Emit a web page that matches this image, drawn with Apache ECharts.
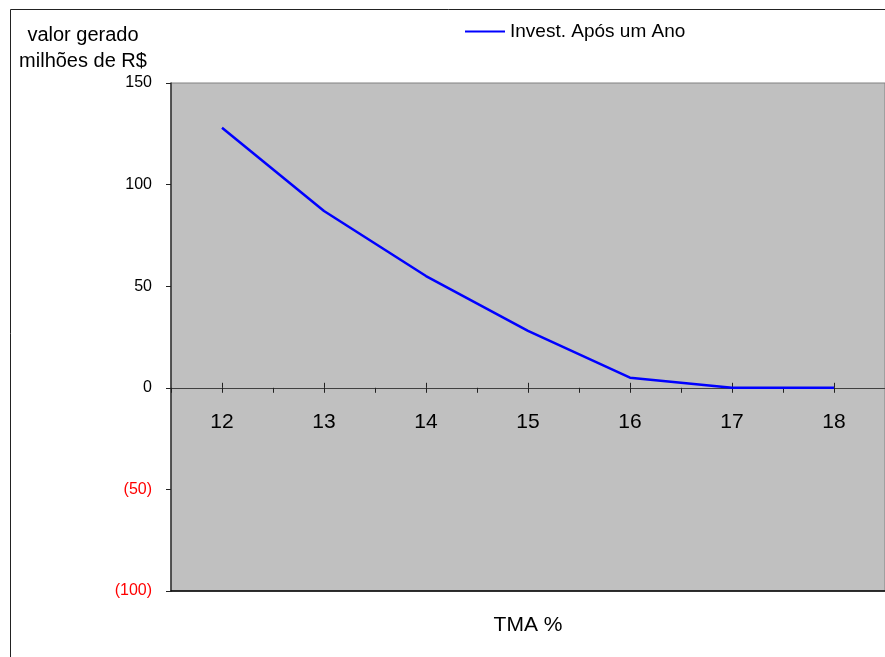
<!DOCTYPE html>
<html>
<head>
<meta charset="utf-8">
<script src="https://cdn.jsdelivr.net/npm/echarts@6/dist/echarts.min.js"></script>
<style>
  html, body { margin: 0; padding: 0; background: #fff; }
  #chart { width: 885px; height: 657px; }
</style>
</head>
<body>
<div id="chart"></div>
<script>
// TMA % (categorias do eixo x)
const tma = ['12', '13', '14', '15', '16', '17', '18'];
// valor gerado, milhões de R$
const investAposUmAno = [128, 87, 55, 28, 5, 0, 0];
// escala do eixo y
const yMin = -100;
const yMax = 150;
const yStep = 50;

const fontFamily = '"Liberation Sans", Arial, sans-serif';
const axisColor = '#404040';
const tickColor = '#222';

const chart = echarts.init(document.getElementById('chart'));

// eixo x "no zero": três eixos sobrepostos (marcas para cima, para baixo e menores)
function zeroAxis(extra) {
  return Object.assign({
    type: 'category',
    data: tma,
    position: 'bottom',
    offset: 0,
    axisLine: { onZero: false, lineStyle: { color: axisColor, width: 1 } },
    axisLabel: { show: false },
    splitLine: { show: false }
  }, extra);
}

const option = {
  animation: false,
  textStyle: { fontFamily: fontFamily },
  title: {
    text: 'valor gerado\nmilhões de R$',
    left: 78,
    top: 17,
    textAlign: 'center',
    textStyle: {
      fontFamily: fontFamily,
      fontSize: 20,
      fontWeight: 'normal',
      color: '#000',
      lineHeight: 26
    }
  },
  legend: {
    left: 460,
    top: 17,
    icon: 'rect',
    itemWidth: 40,
    itemHeight: 2,
    itemGap: 4,
    textStyle: { fontFamily: fontFamily, fontSize: 19, color: '#000' },
    data: ['Invest. Após um Ano']
  },
  graphic: [
    {
      type: 'rect',
      shape: { x: 10.5, y: 9.5, width: 900, height: 700 },
      style: { fill: 'none', stroke: '#222', lineWidth: 1 },
      z: -1
    }
  ],
  grid: {
    left: 171,
    top: 83,
    width: 721,
    height: 508,
    show: true,
    backgroundColor: '#C0C0C0',
    borderColor: '#808080',
    borderWidth: 1
  },
  xAxis: [
    zeroAxis({
      axisTick: { show: true, alignWithLabel: true, inside: true, length: 5, lineStyle: { color: tickColor } },
      axisLabel: { show: true, fontFamily: fontFamily, fontSize: 21, margin: 24, color: '#000' }
    }),
    zeroAxis({
      axisTick: { show: true, alignWithLabel: true, length: 5, lineStyle: { color: tickColor } }
    }),
    zeroAxis({
      axisTick: { show: true, length: 5, lineStyle: { color: tickColor } }
    }),
    {
      // borda inferior + título do eixo
      type: 'category',
      data: tma,
      position: 'bottom',
      axisLine: { onZero: false, lineStyle: { color: '#000', width: 1.5 } },
      axisTick: { show: false },
      axisLabel: { show: false },
      splitLine: { show: false },
      name: 'TMA %',
      nameLocation: 'middle',
      nameGap: 24,
      nameTextStyle: { fontFamily: fontFamily, fontSize: 21, color: '#000' }
    }
  ],
  yAxis: {
    type: 'value',
    min: yMin,
    max: yMax,
    interval: yStep,
    axisLine: { show: true, lineStyle: { color: '#333', width: 1.5 } },
    axisTick: { show: true, length: 5, lineStyle: { color: tickColor } },
    axisLabel: {
      fontFamily: fontFamily,
      fontSize: 16,
      margin: 19,
      color: function (v) { return v < 0 ? '#FF0000' : '#000'; },
      formatter: function (v) { return v < 0 ? '(' + (-v) + ')' : String(v); }
    },
    splitLine: { show: false }
  },
  series: [
    {
      name: 'Invest. Após um Ano',
      type: 'line',
      xAxisIndex: 0,
      data: investAposUmAno,
      symbol: 'none',
      lineStyle: { color: '#0000FF', width: 2.5 },
      itemStyle: { color: '#0000FF' }
    }
  ]
};

chart.setOption(option);

// desloca os eixos x até a posição do zero na escala do eixo y
const zeroY = chart.convertToPixel({ yAxisIndex: 0 }, 0);
const bottomY = chart.convertToPixel({ yAxisIndex: 0 }, yMin);
const shift = zeroY - bottomY;
chart.setOption({
  xAxis: [{ offset: shift }, { offset: shift }, { offset: shift }, {}]
});
</script>
</body>
</html>
